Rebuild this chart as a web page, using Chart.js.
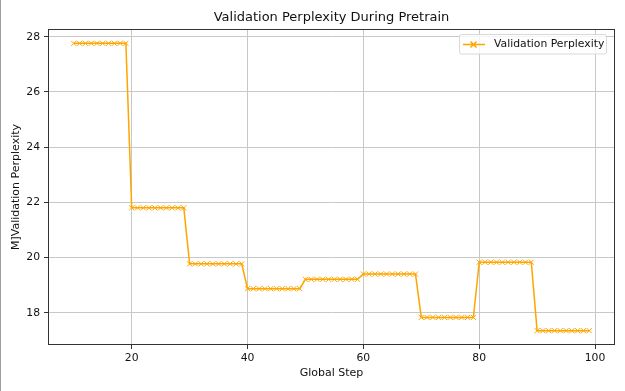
<!DOCTYPE html>
<html>
<head>
<meta charset="utf-8">
<script src="https://cdn.jsdelivr.net/npm/chart.js@4/dist/chart.umd.min.js"></script>
<style>
  html, body { margin: 0; padding: 0; background: #fff; }
  #wrap { width: 625px; height: 391px; }
</style>
</head>
<body>
<div id="wrap"><canvas id="pplChart" width="625" height="391"></canvas></div>
<script>
// eval every step
let steps = [
    10, 11, 12, 13, 14, 15, 16, 17, 18, 19,
    20, 21, 22, 23, 24, 25, 26, 27, 28, 29,
    30, 31, 32, 33, 34, 35, 36, 37, 38, 39,
    40, 41, 42, 43, 44, 45, 46, 47, 48, 49,
    50, 51, 52, 53, 54, 55, 56, 57, 58, 59,
    60, 61, 62, 63, 64, 65, 66, 67, 68, 69,
    70, 71, 72, 73, 74, 75, 76, 77, 78, 79,
    80, 81, 82, 83, 84, 85, 86, 87, 88, 89,
    90, 91, 92, 93, 94, 95, 96, 97, 98, 99,
];
let perplexity = [
    27.76, 27.76, 27.76, 27.76, 27.76, 27.76, 27.76, 27.76, 27.76, 27.76,
    21.80, 21.80, 21.80, 21.80, 21.80, 21.80, 21.80, 21.80, 21.80, 21.80,
    19.77, 19.77, 19.77, 19.77, 19.77, 19.77, 19.77, 19.77, 19.77, 19.77,
    18.87, 18.87, 18.87, 18.87, 18.87, 18.87, 18.87, 18.87, 18.87, 18.87,
    19.21, 19.21, 19.21, 19.21, 19.21, 19.21, 19.21, 19.21, 19.21, 19.21,
    19.40, 19.40, 19.40, 19.40, 19.40, 19.40, 19.40, 19.40, 19.40, 19.40,
    17.83, 17.83, 17.83, 17.83, 17.83, 17.83, 17.83, 17.83, 17.83, 17.83,
    19.83, 19.83, 19.83, 19.83, 19.83, 19.83, 19.83, 19.83, 19.83, 19.83,
    17.35, 17.35, 17.35, 17.35, 17.35, 17.35, 17.35, 17.35, 17.35, 17.35,
];
let xTicks = [20, 40, 60, 80, 100];
let yTicks = [18, 20, 22, 24, 26, 28];

const FONT = "'DejaVu Sans', sans-serif";
const ORANGE = '#ffa500';

// frame, title, legend drawn the matplotlib way
const mplDecor = {
    id: 'mplDecor',
    beforeDraw(chart) {
        const ctx = chart.ctx;
        ctx.save();
        ctx.fillStyle = '#fff';
        ctx.fillRect(0, 0, chart.width, chart.height);
        ctx.fillStyle = '#a0a0a0';
        ctx.fillRect(0, 0, 1, chart.height);
        ctx.restore();
    },
    afterDraw(chart) {
        const ctx = chart.ctx;
        const a = chart.chartArea;
        ctx.save();
        ctx.strokeStyle = '#333';
        ctx.lineWidth = 1;
        ctx.strokeRect(Math.round(a.left) + 0.5, Math.round(a.top) + 0.5,
            Math.round(a.right - a.left) - 1, Math.round(a.bottom - a.top) - 1);

        ctx.fillStyle = '#111';
        ctx.font = '13px ' + FONT;
        ctx.textAlign = 'center';
        ctx.textBaseline = 'middle';
        ctx.fillText('Validation Perplexity During Pretrain', (a.left + a.right) / 2, 18);

        // legend box
        const bx = 459.5, by = 34.5, bw = 147, bh = 19.5;
        ctx.fillStyle = 'rgba(255,255,255,0.8)';
        ctx.strokeStyle = '#d8d8d8';
        ctx.beginPath();
        ctx.roundRect(bx, by, bw, bh, 2);
        ctx.fill();
        ctx.stroke();
        ctx.strokeStyle = ORANGE;
        ctx.lineWidth = 1.5;
        ctx.beginPath();
        ctx.moveTo(463, 44.5);
        ctx.lineTo(485, 44.5);
        ctx.moveTo(470.5, 41.5);
        ctx.lineTo(476.5, 47.5);
        ctx.moveTo(476.5, 41.5);
        ctx.lineTo(470.5, 47.5);
        ctx.stroke();
        ctx.fillStyle = '#111';
        ctx.font = '10.8px ' + FONT;
        ctx.textAlign = 'left';
        ctx.fillText('Validation Perplexity', 494, 44.5);
        ctx.restore();
    }
};

new Chart(
    document.getElementById('pplChart'),
    {
        type: 'line',
        data: {
            datasets: [
                {
                    label: 'Validation Perplexity',
                    data: steps.map((s, i) => ({ x: s, y: perplexity[i] })),
                    borderColor: ORANGE,
                    backgroundColor: ORANGE,
                    borderWidth: 1.5,
                    pointStyle: 'crossRot',
                    pointRadius: 3.6,
                    pointBorderWidth: 1,
                    pointBorderColor: ORANGE,
                    tension: 0,
                    fill: false,
                }
            ]
        },
        options: {
            responsive: false,
            animation: false,
            layout: {
                padding: { top: 29, right: 10, left: 0, bottom: 0 }
            },
            plugins: {
                legend: { display: false },
                title: { display: false },
                tooltip: { enabled: false },
            },
            scales: {
                x: {
                    type: 'linear',
                    min: 5.55,
                    max: 103.45,
                    afterBuildTicks: (scale) => { scale.ticks = xTicks.map(v => ({ value: v })); },
                    afterFit: (scale) => { scale.height = 46; },
                    grid: {
                        color: '#c8c8c8',
                        lineWidth: 1,
                        tickColor: '#333',
                        tickLength: 4,
                    },
                    border: { display: false },
                    ticks: {
                        color: '#111',
                        font: { family: FONT, size: 10.8 },
                        padding: 3,
                        maxRotation: 0,
                        callback: (v) => String(v),
                    },
                    title: {
                        display: true,
                        text: 'Global Step',
                        color: '#111',
                        font: { family: FONT, size: 11 },
                        padding: { top: 0, bottom: 11 },
                    }
                },
                y: {
                    min: 16.83,
                    max: 28.28,
                    afterBuildTicks: (scale) => { scale.ticks = yTicks.map(v => ({ value: v })); },
                    afterFit: (scale) => { scale.width = 48; },
                    grid: {
                        color: '#c8c8c8',
                        lineWidth: 1,
                        tickColor: '#333',
                        tickLength: 4,
                    },
                    border: { display: false },
                    ticks: {
                        color: '#111',
                        font: { family: FONT, size: 10.8 },
                        padding: 4,
                        callback: (v) => String(v),
                    },
                    title: {
                        display: true,
                        text: 'M]Validation Perplexity',
                        color: '#111',
                        font: { family: FONT, size: 11 },
                        padding: { top: 10, bottom: 0 },
                    }
                }
            },
        },
        plugins: [mplDecor],
    }
);
</script>
</body>
</html>
